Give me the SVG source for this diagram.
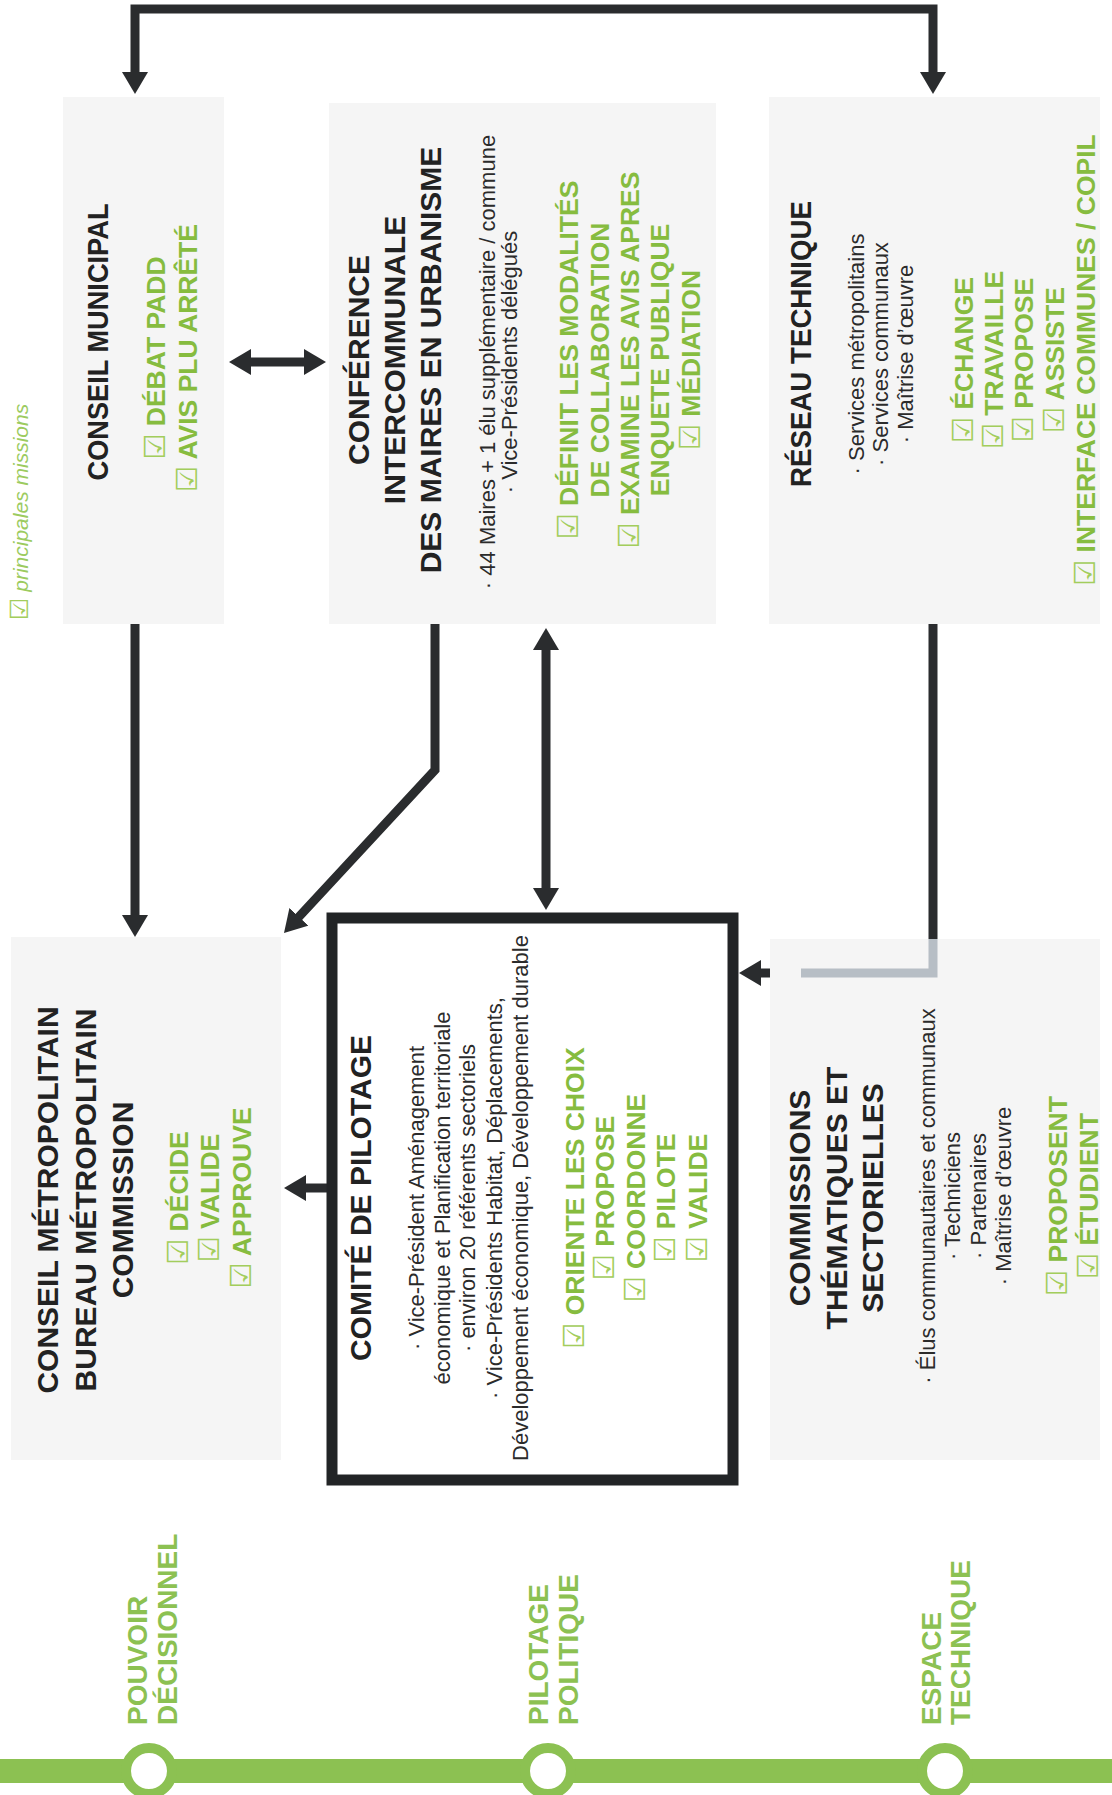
<svg xmlns="http://www.w3.org/2000/svg" width="1112" height="1795" viewBox="0 0 1112 1795">
<style>
text { font-family: "Liberation Sans", Arial, sans-serif; }
.t { font-weight: bold; font-size: 30px; fill: #222222; }
.r { font-size: 22px; fill: #2b2b2b; }
.g { font-weight: bold; font-size: 26.5px; fill: #86bc3f; }
.cb { font-family: "DejaVu Sans", sans-serif; font-weight: normal; fill: #a3cd5c; font-size: 29px; }
.lbl { font-weight: bold; font-size: 28px; fill: #8cc152; }
.leg { font-style: italic; font-size: 21px; fill: #9ccb5f; }
.box { fill: #f5f5f5; }
.con { fill: none; stroke: #2a2c2e; stroke-width: 9; stroke-linejoin: miter; }
</style>
<defs>
<marker id="ah" viewBox="0 0 22 26" refX="2" refY="13" markerWidth="22" markerHeight="26" markerUnits="userSpaceOnUse" orient="auto-start-reverse">
<path d="M0,0 L22,13 L0,26 z" fill="#2a2c2e"/>
</marker>
</defs>
<rect width="1112" height="1795" fill="#ffffff"/>

<g id="legend" transform="rotate(-90)">
<text class="leg" x="-620" y="28"><tspan class="cb" style="font-size:25px">☑</tspan> principales missions</text>
</g>

<g id="connectors">
<path class="con" d="M135,74 V9 H933 V74" marker-start="url(#ah)" marker-end="url(#ah)"/>
<path class="con" d="M249,362 H306" marker-start="url(#ah)" marker-end="url(#ah)"/>
<path class="con" d="M135,624 V917" marker-end="url(#ah)"/>
<path class="con" d="M435,624 V770 L297.6,918.3" marker-end="url(#ah)"/>
<path class="con" d="M546,648 V890" marker-start="url(#ah)" marker-end="url(#ah)"/>
<path class="con" d="M933,624 V973 H759" marker-end="url(#ah)"/>
<path class="con" d="M327,1188 H304" marker-end="url(#ah)"/>
</g>

<g id="conseil-municipal">
<rect class="box" x="63" y="97" width="161" height="527"/>
<g transform="rotate(-90)">
<text class="t" x="-342" y="108" text-anchor="middle" textLength="277" lengthAdjust="spacingAndGlyphs">CONSEIL MUNICIPAL</text>
<text class="g" x="-358" y="165" text-anchor="middle"><tspan class="cb">☑</tspan> DÉBAT PADD</text>
<text class="g" x="-358" y="197" text-anchor="middle"><tspan class="cb">☑</tspan> AVIS PLU ARRÊTÉ</text>
</g>
</g>

<g id="conference">
<rect class="box" x="329" y="103" width="387" height="521"/>
<g transform="rotate(-90)">
<text class="t" x="-360" y="369" text-anchor="middle">CONFÉRENCE</text>
<text class="t" x="-360" y="405" text-anchor="middle">INTERCOMMUNALE</text>
<text class="t" x="-360" y="441" text-anchor="middle">DES MAIRES EN URBANISME</text>
<text class="r" x="-362" y="495" text-anchor="middle">· 44 Maires + 1 élu supplémentaire / commune</text>
<text class="r" x="-362" y="517" text-anchor="middle">· Vice-Présidents délégués</text>
<text class="g" x="-360" y="578" text-anchor="middle"><tspan class="cb">☑</tspan> DÉFINIT LES MODALITÉS</text>
<text class="g" x="-360" y="609" text-anchor="middle">DE COLLABORATION</text>
<text class="g" x="-360" y="639" text-anchor="middle"><tspan class="cb">☑</tspan> EXAMINE LES AVIS APRES</text>
<text class="g" x="-360" y="669" text-anchor="middle">ENQUETE PUBLIQUE</text>
<text class="g" x="-360" y="700" text-anchor="middle"><tspan class="cb">☑</tspan> MÉDIATION</text>
</g>
</g>

<g id="reseau-technique">
<rect class="box" x="769" y="97" width="331" height="527"/>
<g transform="rotate(-90)">
<text class="t" x="-344" y="811" text-anchor="middle" textLength="286" lengthAdjust="spacingAndGlyphs">RÉSEAU TECHNIQUE</text>
<text class="r" x="-354" y="864" text-anchor="middle">· Services métropolitains</text>
<text class="r" x="-354" y="888" text-anchor="middle">· Services communaux</text>
<text class="r" x="-354" y="913" text-anchor="middle">· Maîtrise d’œuvre</text>
<text class="g" x="-360" y="973" text-anchor="middle"><tspan class="cb">☑</tspan> ÉCHANGE</text>
<text class="g" x="-360" y="1003" text-anchor="middle"><tspan class="cb">☑</tspan> TRAVAILLE</text>
<text class="g" x="-360" y="1033" text-anchor="middle"><tspan class="cb">☑</tspan> PROPOSE</text>
<text class="g" x="-360" y="1064" text-anchor="middle"><tspan class="cb">☑</tspan> ASSISTE</text>
<text class="g" x="-360" y="1095" text-anchor="middle"><tspan class="cb">☑</tspan> INTERFACE COMMUNES / COPIL</text>
</g>
</g>

<g id="conseil-metropolitain">
<rect class="box" x="11" y="937" width="270" height="523"/>
<g transform="rotate(-90)">
<text class="t" x="-1200" y="58" text-anchor="middle">CONSEIL MÉTROPOLITAIN</text>
<text class="t" x="-1200" y="96" text-anchor="middle">BUREAU MÉTROPOLITAIN</text>
<text class="t" x="-1200" y="133" text-anchor="middle">COMMISSION</text>
<text class="g" x="-1198" y="188" text-anchor="middle"><tspan class="cb">☑</tspan> DÉCIDE</text>
<text class="g" x="-1198" y="219" text-anchor="middle"><tspan class="cb">☑</tspan> VALIDE</text>
<text class="g" x="-1198" y="251" text-anchor="middle"><tspan class="cb">☑</tspan> APPROUVE</text>
</g>
</g>

<g id="comite-pilotage">
<rect x="332" y="918" width="401" height="562" fill="#ffffff" stroke="#222426" stroke-width="11"/>
<g transform="rotate(-90)">
<text class="t" x="-1198" y="371" text-anchor="middle">COMITÉ DE PILOTAGE</text>
<text class="r" x="-1198" y="424" text-anchor="middle">· Vice-Président Aménagement</text>
<text class="r" x="-1198" y="450" text-anchor="middle">économique et Planification territoriale</text>
<text class="r" x="-1198" y="475" text-anchor="middle">· environ 20 référents sectoriels</text>
<text class="r" x="-1198" y="502" text-anchor="middle">· Vice-Présidents Habitat, Déplacements,</text>
<text class="r" x="-1198" y="528" text-anchor="middle">Développement économique, Développement durable</text>
<text class="g" x="-1198" y="584" text-anchor="middle"><tspan class="cb">☑</tspan> ORIENTE LES CHOIX</text>
<text class="g" x="-1198" y="614" text-anchor="middle"><tspan class="cb">☑</tspan> PROPOSE</text>
<text class="g" x="-1198" y="645" text-anchor="middle"><tspan class="cb">☑</tspan> COORDONNE</text>
<text class="g" x="-1198" y="675" text-anchor="middle"><tspan class="cb">☑</tspan> PILOTE</text>
<text class="g" x="-1198" y="707" text-anchor="middle"><tspan class="cb">☑</tspan> VALIDE</text>
</g>
</g>

<g id="commissions">
<rect class="box" x="770" y="939" width="330" height="521"/>
<path d="M933,939 V973 H801" fill="none" stroke="#b7bec5" stroke-width="9" stroke-linejoin="miter"/>
<g transform="rotate(-90)">
<text class="t" x="-1198" y="810" text-anchor="middle">COMMISSIONS</text>
<text class="t" x="-1198" y="847" text-anchor="middle">THÉMATIQUES ET</text>
<text class="t" x="-1198" y="883" text-anchor="middle">SECTORIELLES</text>
<text class="r" x="-1196" y="935" text-anchor="middle">· Élus communautaires et communaux</text>
<text class="r" x="-1196" y="960" text-anchor="middle">· Techniciens</text>
<text class="r" x="-1196" y="986" text-anchor="middle">· Partenaires</text>
<text class="r" x="-1196" y="1011" text-anchor="middle">· Maîtrise d’œuvre</text>
<text class="g" x="-1196" y="1067" text-anchor="middle"><tspan class="cb">☑</tspan> PROPOSENT</text>
<text class="g" x="-1196" y="1098" text-anchor="middle"><tspan class="cb">☑</tspan> ÉTUDIENT</text>
</g>
</g>

<g id="timeline">
<rect x="0" y="1759" width="1112" height="24" fill="#8cc152"/>
<circle cx="149" cy="1771" r="23" fill="#ffffff" stroke="#8cc152" stroke-width="10"/>
<circle cx="548" cy="1771" r="23" fill="#ffffff" stroke="#8cc152" stroke-width="10"/>
<circle cx="945" cy="1771" r="23" fill="#ffffff" stroke="#8cc152" stroke-width="10"/>
<g transform="rotate(-90)">
<text class="lbl" x="-1725" y="147">POUVOIR</text>
<text class="lbl" x="-1725" y="177">DÉCISIONNEL</text>
<text class="lbl" x="-1725" y="548">PILOTAGE</text>
<text class="lbl" x="-1725" y="578">POLITIQUE</text>
<text class="lbl" x="-1725" y="941">ESPACE</text>
<text class="lbl" x="-1725" y="970">TECHNIQUE</text>
</g>
</g>
</svg>
